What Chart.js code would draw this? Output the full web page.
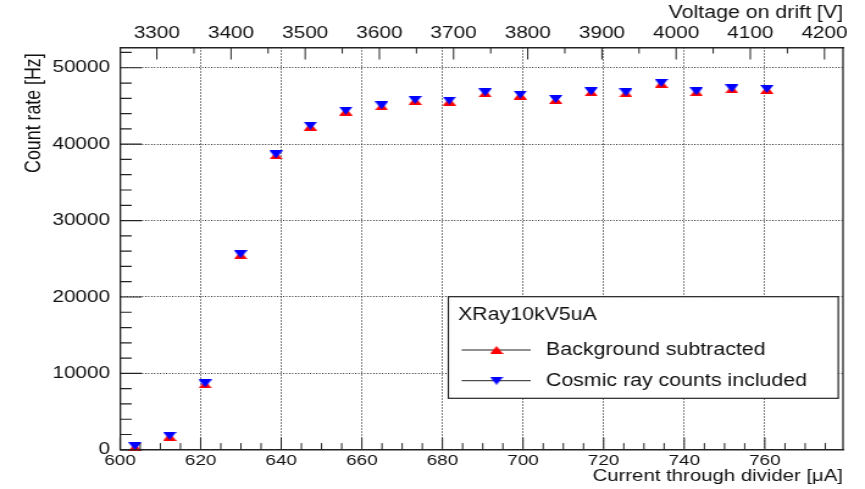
<!DOCTYPE html>
<html>
<head>
<meta charset="utf-8">
<script src="https://cdn.jsdelivr.net/npm/chart.js@4.4.1/dist/chart.umd.min.js"></script>
<style>
  html, body { margin: 0; padding: 0; background: #fff; overflow: hidden; }
  /* the original picture is stretched sideways, so the whole canvas is too */
  #wrap { width: 709px; height: 489px; transform: scaleX(1.22); transform-origin: 0 0; }
</style>
</head>
<body>
<div id="wrap"><canvas id="rateChart" width="709" height="489"></canvas></div>
<script>
// current through divider [uA]
const currentUA = [603.7, 612.3, 621.1, 629.9, 638.7, 647.2, 656.0, 664.9, 673.2, 681.7,
                   690.6, 699.3, 708.1, 716.9, 725.5, 734.3, 743.0, 751.8, 760.5];
// count rate [Hz]
const bgSubtracted = [350, 1700, 8570, 25480, 38530, 42290, 44260, 44950, 45660, 45570,
                      46660, 46360, 45790, 46790, 46660, 47890, 46790, 47180, 47100];
const cosmicIncluded = [470, 1820, 8690, 25600, 38650, 42410, 44380, 45070, 45780, 45690,
                        46780, 46480, 45910, 46910, 46780, 48010, 46910, 47300, 47220];

const seriesLabels = ['Background subtracted', 'Cosmic ray counts included'];
const legendTitle = 'XRay10kV5uA';
const xTitle = 'Current through divider [\u03bcA]';
const x2Title = 'Voltage on drift [V]';
const yTitle = 'Count rate [Hz]';

// axis ranges and labelled ticks
const xRange = [600, 779.4];
const x2Range = [3250.4, 4225];
const yRange = [0, 52650];
const xTicks = [600, 620, 640, 660, 680, 700, 720, 740, 760];
const x2Ticks = [3300, 3400, 3500, 3600, 3700, 3800, 3900, 4000, 4100, 4200];
const yTicks = [0, 10000, 20000, 30000, 40000, 50000];
const xMinor = 5, x2Minor = 50, yMinor = 2000;

const FONT = '"Liberation Sans", Arial, Helvetica, sans-serif';
Chart.defaults.font.family = FONT;
Chart.defaults.color = '#111';

// ROOT style full triangles (up / down), both filling the same box
function triangle(color, up) {
  const c = document.createElement('canvas');
  c.width = 11; c.height = 8;
  const g = c.getContext('2d');
  g.fillStyle = color;
  g.beginPath();
  if (up) { g.moveTo(0, 8); g.lineTo(11, 8); g.lineTo(5.5, 0); }
  else { g.moveTo(0, 0); g.lineTo(11, 0); g.lineTo(5.5, 8); }
  g.closePath();
  g.fill();
  return c;
}
const triUp = triangle('#ff0000', true);
const triDown = triangle('#0000ff', false);

const toPoints = (ys) => currentUA.map((x, i) => ({ x: x, y: ys[i] }));
const setTicks = (list) => (scale) => { scale.ticks = list.map((v) => ({ value: v })); };

// inward ticks, right frame edge, y title
const rootAxes = {
  id: 'rootAxes',
  afterDatasetsDraw(chart) {
    const { ctx, chartArea: a, scales } = chart;
    ctx.save();
    ctx.strokeStyle = '#222';
    ctx.lineWidth = 1.2;
    ctx.beginPath();
    for (let v = yRange[0]; v <= yRange[1]; v += yMinor) {
      const py = scales.y.getPixelForValue(v);
      const len = yTicks.includes(v) ? 18 : 9.5;
      ctx.moveTo(a.left, py);
      ctx.lineTo(a.left + len, py);
    }
    ctx.stroke();
    ctx.lineWidth = 1;
    ctx.beginPath();
    for (let v = xRange[0]; v <= xRange[1]; v += xMinor) {
      const px = scales.x.getPixelForValue(v);
      const len = xTicks.includes(v) ? 12.3 : 6.7;
      ctx.moveTo(px, a.bottom);
      ctx.lineTo(px, a.bottom - len);
    }
    for (let v = Math.ceil(x2Range[0] / x2Minor) * x2Minor; v <= x2Range[1]; v += x2Minor) {
      const px = scales.x2.getPixelForValue(v);
      const len = x2Ticks.includes(v) ? 12 : 6;
      ctx.moveTo(px, a.top);
      ctx.lineTo(px, a.top + len);
    }
    ctx.stroke();
    ctx.lineWidth = 1.3;
    ctx.beginPath();
    ctx.moveTo(a.right, a.top);
    ctx.lineTo(a.right, a.bottom);
    ctx.stroke();

    // y title, aligned to the top end of the axis
    ctx.fillStyle = '#111';
    ctx.font = '17.8px ' + FONT;
    ctx.translate(32.8, a.top + 5.8);
    ctx.rotate(-Math.PI / 2);
    ctx.textAlign = 'right';
    ctx.textBaseline = 'alphabetic';
    ctx.fillText(yTitle, 0, 0);
    ctx.restore();
  }
};

// boxed legend with a title, like TLegend
const rootLegend = {
  id: 'rootLegend',
  afterDraw(chart) {
    const ctx = chart.ctx;
    const box = { x: 367.5, y: 296.7, w: 319.6, h: 101.6 };
    ctx.save();
    ctx.fillStyle = '#fff';
    ctx.fillRect(box.x, box.y, box.w, box.h);
    ctx.strokeStyle = '#222';
    ctx.lineWidth = 1.2;
    ctx.strokeRect(box.x, box.y, box.w, box.h);
    ctx.fillStyle = '#111';
    ctx.font = '17.5px ' + FONT;
    ctx.textBaseline = 'middle';
    ctx.textAlign = 'left';
    ctx.fillText(legendTitle, box.x + 7.9, box.y + 18.5);
    const rows = [box.y + 53.3, box.y + 84];
    chart.data.datasets.forEach((ds, i) => {
      const ry = rows[i];
      ctx.strokeStyle = '#222';
      ctx.lineWidth = 1;
      ctx.beginPath();
      ctx.moveTo(box.x + 10.9, ry);
      ctx.lineTo(box.x + 67.5, ry);
      ctx.stroke();
      const img = ds.pointStyle;
      ctx.drawImage(img, box.x + 39.5 - img.width / 2, ry - img.height / 2);
      ctx.fillText(ds.label, box.x + 80, ry);
    });
    ctx.restore();
  }
};

const ctx = document.getElementById('rateChart');
const rateChart = new Chart(ctx, {
  type: 'scatter',
  data: {
    datasets: [
      {
        label: seriesLabels[0],
        data: toPoints(bgSubtracted),
        pointStyle: triUp,
        pointRadius: 5,
        order: 2,
        clip: false,
        xAxisID: 'x',
        yAxisID: 'y'
      },
      {
        label: seriesLabels[1],
        data: toPoints(cosmicIncluded),
        pointStyle: triDown,
        pointRadius: 5,
        order: 1,
        clip: false,
        xAxisID: 'x',
        yAxisID: 'y'
      }
    ]
  },
  options: {
    responsive: false,
    animation: false,
    layout: { padding: { left: 0, right: 18, top: 0, bottom: 0 } },
    plugins: {
      legend: { display: false },
      tooltip: { enabled: false }
    },
    scales: {
      x: {
        type: 'linear',
        position: 'bottom',
        min: xRange[0],
        max: xRange[1],
        afterBuildTicks: setTicks(xTicks),
        afterFit: (s) => { s.height = 39.2; },
        ticks: {
          padding: 1.7,
          maxRotation: 0,
          autoSkip: false,
          font: { size: 15.5 },
          color: '#111',
          callback: (v) => String(v)
        },
        grid: { color: '#000', lineWidth: 1, drawTicks: false },
        border: { display: true, color: '#222', width: 1.5, dash: [1, 2] },
        title: {
          display: true,
          text: xTitle,
          align: 'end',
          color: '#111',
          font: { size: 16.7 },
          padding: { top: 0, bottom: 2.3 }
        }
      },
      x2: {
        type: 'linear',
        position: 'top',
        min: x2Range[0],
        max: x2Range[1],
        afterBuildTicks: setTicks(x2Ticks),
        afterFit: (s) => { s.height = 47.5; },
        ticks: {
          padding: 4.3,
          maxRotation: 0,
          autoSkip: false,
          font: { size: 17 },
          color: '#111',
          callback: (v) => String(v)
        },
        grid: { display: false, drawTicks: false },
        border: { display: true, color: '#222', width: 1.5 },
        title: {
          display: true,
          text: x2Title,
          align: 'end',
          color: '#111',
          font: { size: 17.5 },
          padding: { top: 2.5, bottom: 0 }
        }
      },
      y: {
        type: 'linear',
        position: 'left',
        min: yRange[0],
        max: yRange[1],
        afterBuildTicks: setTicks(yTicks),
        afterFit: (s) => { s.width = 98.4; },
        ticks: {
          padding: 8.2,
          autoSkip: false,
          font: { size: 17 },
          color: '#111',
          callback: (v) => String(v)
        },
        grid: { color: '#000', lineWidth: 1, drawTicks: false },
        border: { display: true, color: '#222', width: 1.3, dash: [0.82, 1.64] }
      }
    }
  },
  plugins: [rootAxes, rootLegend]
});
</script>
</body>
</html>
